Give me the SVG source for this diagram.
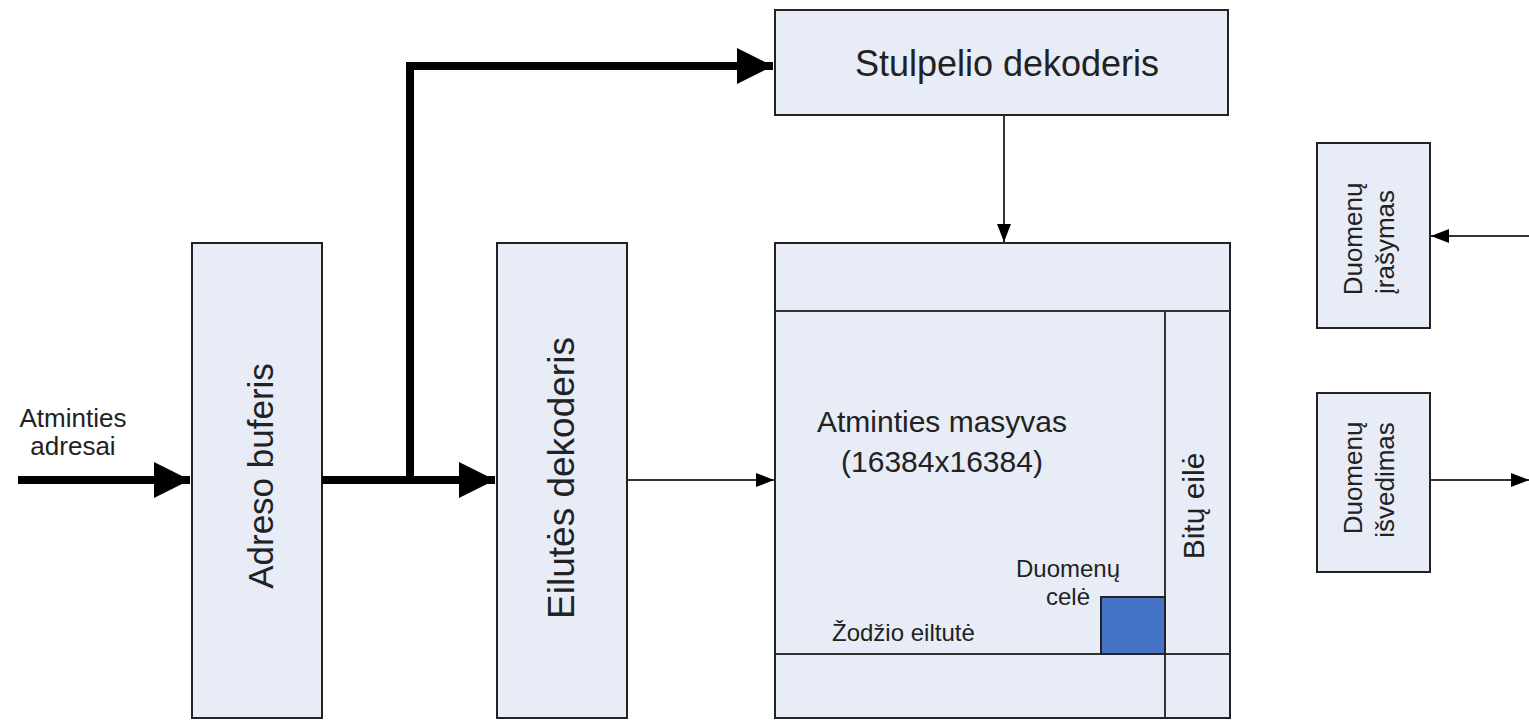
<svg xmlns="http://www.w3.org/2000/svg" width="1529" height="721" viewBox="0 0 1529 721">
<style>
.box{fill:#e7ecf6;stroke:#222;stroke-width:2}
.t{font-family:"Liberation Sans",Arial,sans-serif;fill:#222}
.thick{stroke:#000;stroke-width:8;fill:none}
.thin{stroke:#333;stroke-width:2;fill:none}
</style>
<defs>
<marker id="big" markerUnits="userSpaceOnUse" markerWidth="36" markerHeight="36" refX="36" refY="18" orient="auto"><path d="M0,0 L36,18 L0,36 Z" fill="#000"/></marker>
<marker id="sm" markerUnits="userSpaceOnUse" markerWidth="18" markerHeight="14" refX="18" refY="7" orient="auto"><path d="M0,0 L18,7 L0,14 Z" fill="#000"/></marker>
</defs>
<rect width="1529" height="721" fill="#fff"/>
<g id="adreso-buferis">
<rect class="box" x="192" y="243" width="130" height="475"/>
<text class="t" font-size="35" text-anchor="middle" transform="translate(273,476) rotate(-90)">Adreso buferis</text>
</g>
<g id="eilutes-dekoderis">
<rect class="box" x="497" y="243" width="130" height="475"/>
<text class="t" font-size="37" text-anchor="middle" transform="translate(574,478) rotate(-90)">Eilutės dekoderis</text>
</g>
<g id="stulpelio-dekoderis">
<rect class="box" x="775" y="10" width="453" height="105"/>
<text class="t" font-size="36" text-anchor="middle" x="1007" y="76">Stulpelio dekoderis</text>
</g>
<g id="atminties-masyvas">
<rect class="box" x="775" y="243" width="455" height="475"/>
<line class="thin" x1="775" y1="311" x2="1230" y2="311"/>
<line class="thin" x1="775" y1="654" x2="1230" y2="654"/>
<line class="thin" x1="1165" y1="311" x2="1165" y2="718"/>
<text class="t" font-size="30" text-anchor="middle" x="942" y="432">Atminties masyvas</text>
<text class="t" font-size="30" text-anchor="middle" x="942" y="472">(16384x16384)</text>
<text class="t" font-size="24" x="832" y="641">Žodžio eiltutė</text>
</g>
<g id="duomenu-cele">
<rect x="1101" y="597" width="64" height="57" fill="#4472c4" stroke="#222" stroke-width="2"/>
<text class="t" font-size="24" text-anchor="middle" x="1068" y="577">Duomenų</text>
<text class="t" font-size="24" text-anchor="middle" x="1068" y="605">celė</text>
</g>
<g id="bitu-eile">
<text class="t" font-size="30" text-anchor="middle" transform="translate(1204,506) rotate(-90)">Bitų eilė</text>
</g>
<g id="duomenu-irasymas">
<rect class="box" x="1317" y="143" width="113" height="185"/>
<text class="t" font-size="26" text-anchor="middle" transform="translate(1362,239) rotate(-90)">Duomenų</text>
<text class="t" font-size="26" text-anchor="middle" transform="translate(1394,242) rotate(-90)">įrašymas</text>
</g>
<g id="duomenu-isvedimas">
<rect class="box" x="1317" y="393" width="113" height="179"/>
<text class="t" font-size="26" text-anchor="middle" transform="translate(1362,478) rotate(-90)">Duomenų</text>
<text class="t" font-size="26" text-anchor="middle" transform="translate(1394,480) rotate(-90)">išvedimas</text>
</g>
<g id="atminties-adresai">
<text class="t" font-size="26" text-anchor="middle" x="73" y="427">Atminties</text>
<text class="t" font-size="26" text-anchor="middle" x="73" y="455">adresai</text>
</g>
<g id="connectors">
<path class="thick" d="M18,480 H190" marker-end="url(#big)"/>
<path class="thick" d="M322,480 H495" marker-end="url(#big)"/>
<path class="thick" d="M410,480 V66 H773" marker-end="url(#big)"/>
<path class="thin" d="M627,480 H774" marker-end="url(#sm)"/>
<path class="thin" d="M1004,115 V242" marker-end="url(#sm)"/>
<path class="thin" d="M1529,236 H1431" marker-end="url(#sm)"/>
<path class="thin" d="M1430,480 H1529" marker-end="url(#sm)"/>
</g>
</svg>
